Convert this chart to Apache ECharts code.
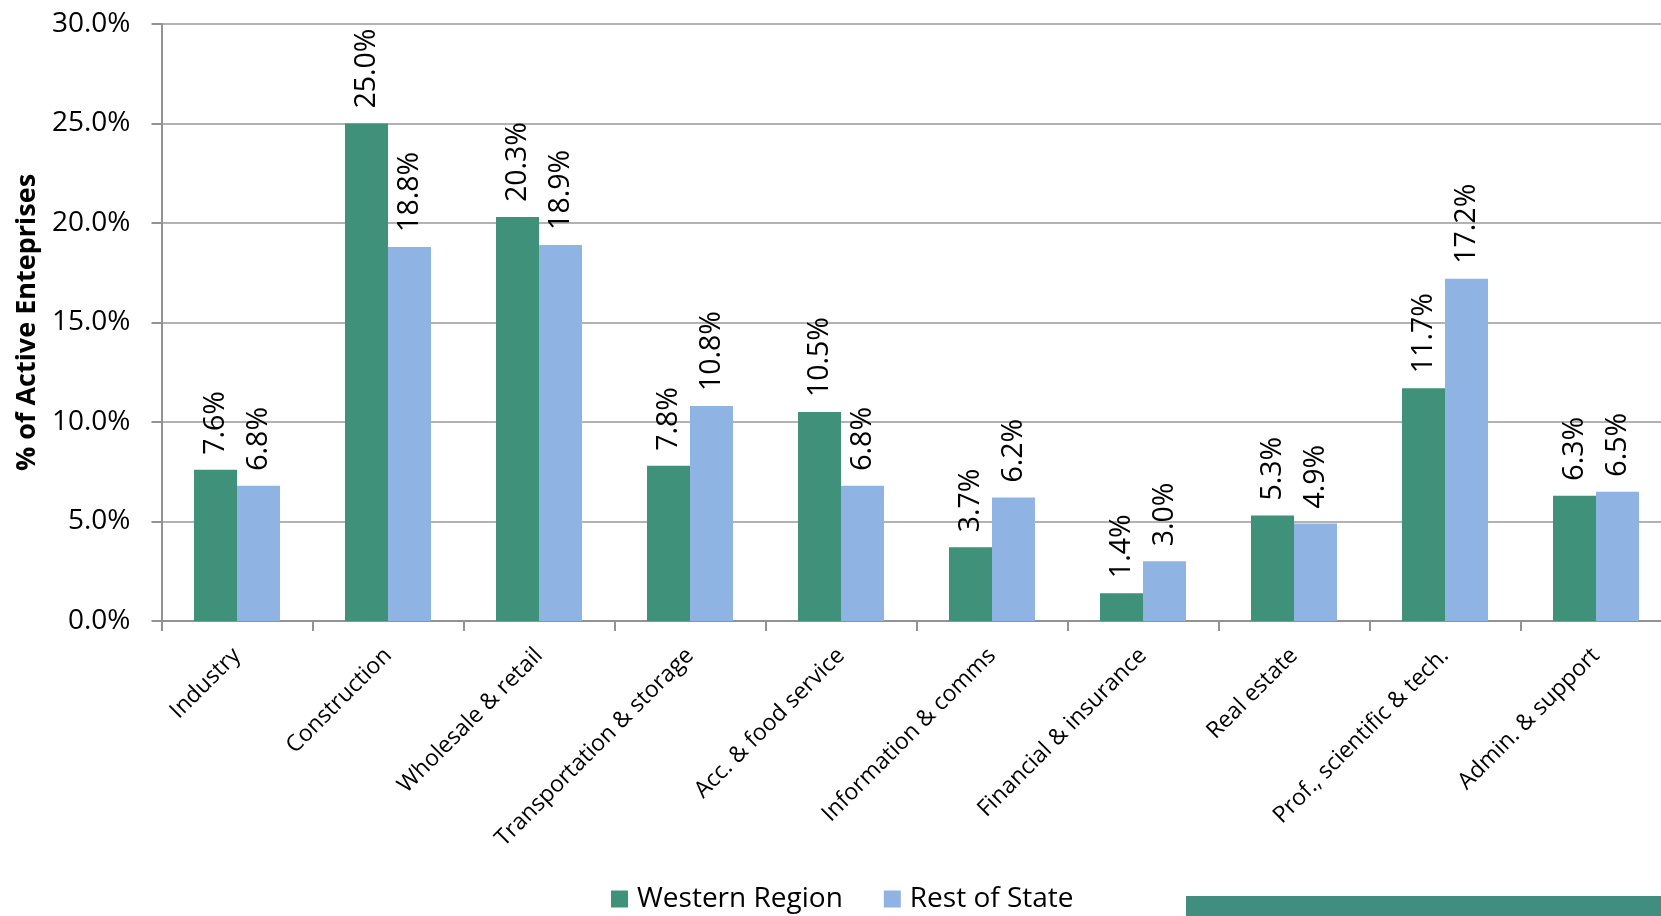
<!DOCTYPE html>
<html><head><meta charset="utf-8">
<script src="https://cdn.jsdelivr.net/npm/echarts@6/dist/echarts.min.js"></script>
<style>html,body{margin:0;padding:0;background:#fff}#c{width:1661px;height:916px}</style>
</head><body><div id="c"></div>
<script>
const categories = ["Industry","Construction","Wholesale & retail","Transportation & storage","Acc. & food service","Information & comms","Financial & insurance","Real estate","Prof., scientific & tech.","Admin. & support"];
const western = [7.6,25.0,20.3,7.8,10.5,3.7,1.4,5.3,11.7,6.3];
const restOfState = [6.8,18.8,18.9,10.8,6.8,6.2,3.0,4.9,17.2,6.5];
const seriesNames = ["Western Region","Rest of State"];
const F = "Open Sans";
const chart = echarts.init(document.getElementById('c'), null, {renderer:'canvas'});
const lbl = {show:true, position:'top', rotate:90, align:'left', verticalAlign:'middle', distance:15,
  fontFamily:F, fontSize:28.5, color:'#000', formatter:p=>p.value.toFixed(1)+'%'};
chart.setOption({
  animation:false,
  textStyle:{fontFamily:F},
  grid:{left:161.5, width:1510, top:24, bottom:295, containLabel:false, outerBoundsMode:'none'},
  legend:{left:611, top:885, padding:0, itemWidth:17, itemHeight:17, itemGap:41,
    textStyle:{fontFamily:F, fontSize:28, color:'#000', padding:[0,0,0,4]}, data:seriesNames, icon:'rect'},
  xAxis:{type:'category', data:categories,
    axisLine:{lineStyle:{color:'#929292', width:2}},
    axisTick:{show:true, length:10, lineStyle:{color:'#929292', width:2}},
    axisLabel:{rotate:45, fontFamily:F, fontSize:23, color:'#000', margin:31, interval:0}},
  yAxis:{type:'value', min:0, max:30, interval:5,
    name:'% of Active Enteprises', nameLocation:'middle', nameGap:117,
    nameTextStyle:{fontFamily:F, fontSize:27, fontWeight:'bold', color:'#000'},
    axisLine:{show:true, lineStyle:{color:'#929292', width:2}},
    axisTick:{show:true, length:10, lineStyle:{color:'#929292', width:2}},
    splitLine:{lineStyle:{color:'#999999', width:1.5}},
    axisLabel:{fontFamily:F, fontSize:28, color:'#000', margin:31, formatter:v=>v.toFixed(1)+'%'}},
  series:[
    {name:seriesNames[0], type:'bar', data:western, barWidth:43, barGap:'0%', itemStyle:{color:'#3F9279'}, label:lbl},
    {name:seriesNames[1], type:'bar', data:restOfState, barWidth:43, barGap:'0%', itemStyle:{color:'#8FB4E3'}, label:lbl}
  ],
  graphic:[{type:'rect', left:1186, top:896, shape:{width:475, height:20}, style:{fill:'#418E80'}, silent:true}]
});
</script></body></html>
